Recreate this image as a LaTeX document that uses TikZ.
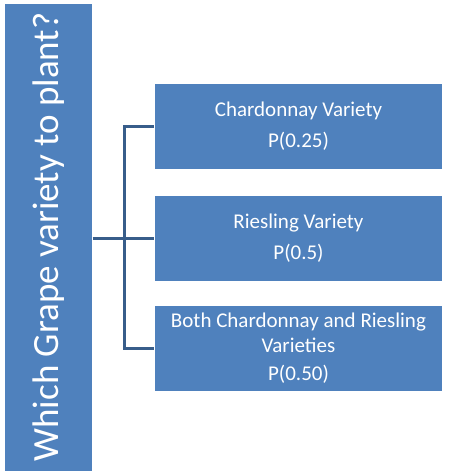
\documentclass[tikz,border=0pt]{standalone}
\usepackage{fontspec}
\setmainfont{Carlito}
\begin{document}
\begin{tikzpicture}[x=1pt,y=-1pt,
 box/.style={draw=white,line width=1pt,fill=blu,text=white,minimum width=288pt,minimum height=86pt,align=center,font=\fontsize{21}{25}\selectfont,inner sep=2pt},
 con/.style={draw=bl2,line width=3pt}]
\definecolor{blu}{HTML}{4F81BD}\definecolor{bl2}{HTML}{385D8A}
\useasboundingbox (0,0) rectangle (452,475);
\node[draw=white,fill=blu,minimum width=88pt,minimum height=468pt,inner sep=0pt] (q) at (48.5,237) {};
\node[rotate=90,text=white,font=\fontsize{37}{40}\selectfont] at (48.5,237) {Which Grape variety to plant?};
\node[box] (a) at (298.5,126) {Chardonnay Variety\\[6pt]P(0.25)};
\node[box] (b) at (298.5,238) {Riesling Variety\\[6pt]P(0.5)};
\node[box] (c) at (298.5,348) {Both Chardonnay and Riesling\\Varieties\\[3pt]P(0.50)};
\coordinate (m) at (124,238);
\draw[con] (q.east|-m) -- (b.west);
\draw[con] (a.west) -- (m|-a.west) -- (m|-c.west) -- (c.west);
\end{tikzpicture}
\end{document}
